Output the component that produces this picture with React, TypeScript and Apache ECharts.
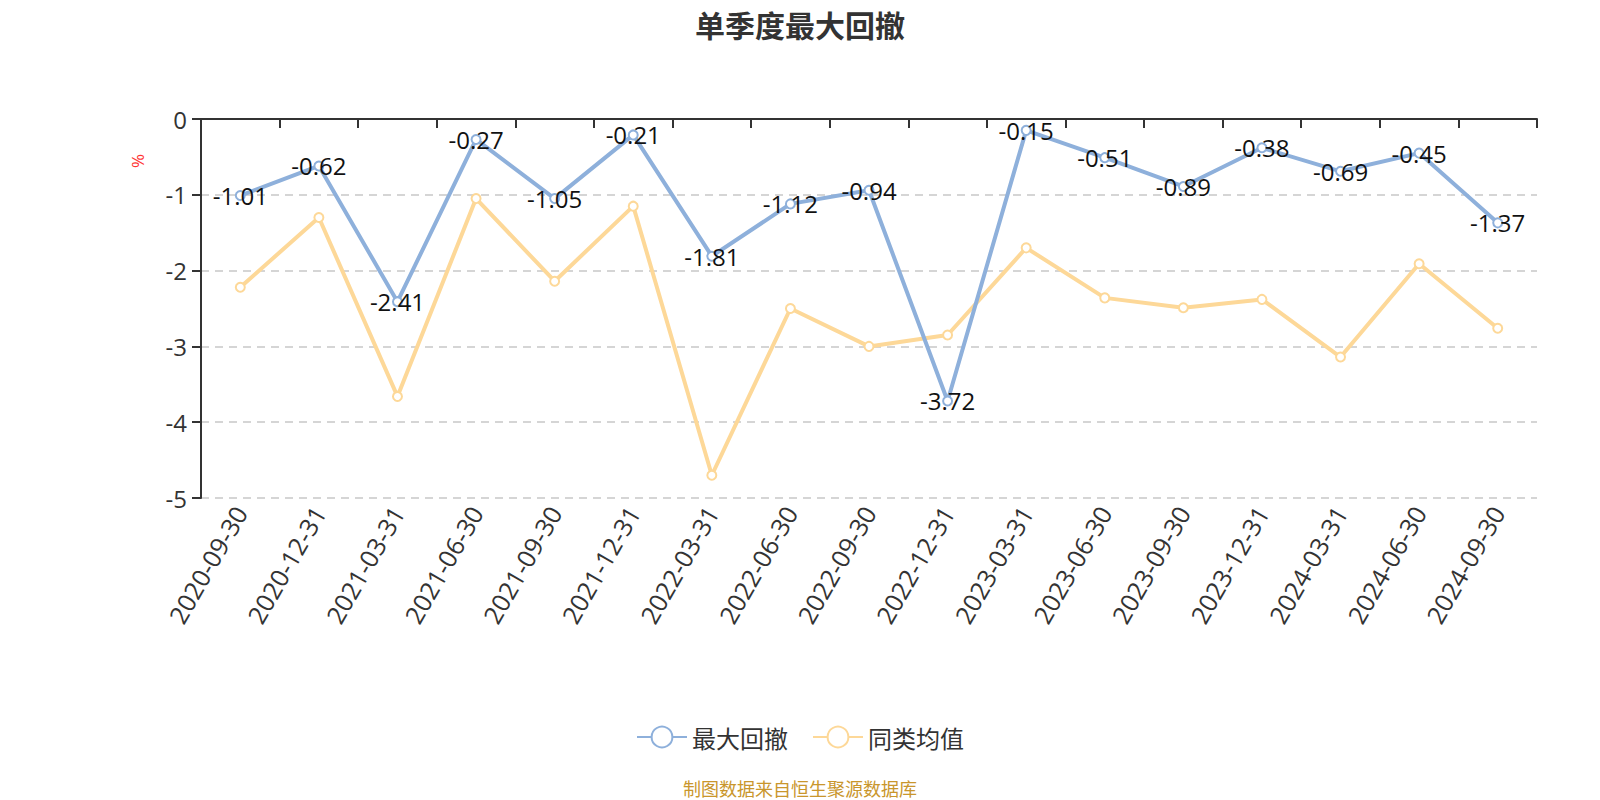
import React, { useEffect, useRef } from "react";
import * as echarts from "echarts";

const categories = [
  "2020-09-30", "2020-12-31", "2021-03-31", "2021-06-30", "2021-09-30", "2021-12-31",
  "2022-03-31", "2022-06-30", "2022-09-30", "2022-12-31", "2023-03-31", "2023-06-30",
  "2023-09-30", "2023-12-31", "2024-03-31", "2024-06-30", "2024-09-30",
];
const maxDrawdown = [
  -1.01, -0.62, -2.41, -0.27, -1.05, -0.21, -1.81, -1.12, -0.94, -3.72, -0.15, -0.51,
  -0.89, -0.38, -0.69, -0.45, -1.37,
];
const peerAverage = [
  -2.22, -1.3, -3.66, -1.05, -2.14, -1.15, -4.7, -2.5, -3.0, -2.85, -1.7, -2.36,
  -2.49, -2.38, -3.14, -1.91, -2.76,
];
const seriesNames = ["最大回撤", "同类均值"];

const FONT = "'Open Sans', 'Noto Sans CJK SC', sans-serif";
const CJK = "'Noto Sans CJK SC', sans-serif";

export default function App() {
  const ref = useRef<HTMLDivElement>(null);
  useEffect(() => {
    if (!ref.current) return;
    const chart = echarts.init(ref.current, null, { renderer: "svg" });
    chart.setOption({
      animation: false,
      textStyle: { fontFamily: FONT },
      title: {
        text: "单季度最大回撤",
        left: "center",
        top: 4,
        textStyle: { fontSize: 30, fontWeight: "bold", color: "#333", fontFamily: CJK },
      },
      legend: {
        top: 720,
        left: "center",
        itemWidth: 50,
        itemHeight: 26,
        itemGap: 24,
        textStyle: { fontSize: 24, color: "#333", fontFamily: CJK },
        data: seriesNames,
      },
      grid: { left: 201, right: 63, top: 119, bottom: 302, containLabel: false },
      xAxis: {
        type: "category",
        data: categories,
        boundaryGap: true,
        axisLine: { onZero: true, lineStyle: { color: "#333", width: 2 } },
        axisTick: { show: true, length: 9, lineStyle: { color: "#333", width: 2 } },
        axisLabel: { rotate: 60, fontSize: 25, color: "#333", margin: 10, interval: 0 },
      },
      yAxis: {
        type: "value",
        min: -5,
        max: 0,
        interval: 1,
        axisLine: { show: true, lineStyle: { color: "#333", width: 2 } },
        axisTick: { show: true, length: 9, lineStyle: { color: "#333", width: 2 } },
        axisLabel: { fontSize: 24, color: "#333", margin: 14 },
        splitLine: { show: true, lineStyle: { type: [8, 6], color: "#c8c8c8", width: 1.5 } },
      },
      graphic: [
        {
          type: "text",
          x: 138,
          y: 161,
          rotation: -Math.PI / 2,
          style: {
            text: "%",
            fill: "#ff3333",
            fontSize: 17,
            fontFamily: FONT,
            align: "center",
            verticalAlign: "middle",
          },
        },
        {
          type: "text",
          left: "center",
          top: 779,
          style: {
            text: "制图数据来自恒生聚源数据库",
            fill: "#c9962c",
            fontSize: 18,
            fontFamily: CJK,
          },
        },
      ],
      series: [
        {
          name: seriesNames[0],
          type: "line",
          data: maxDrawdown,
          symbol: "emptyCircle",
          symbolSize: 9,
          z: 3,
          lineStyle: { color: "#8eb0db", width: 4 },
          itemStyle: { color: "#8eb0db", borderWidth: 1.5 },
          label: {
            show: true,
            position: "inside",
            fontSize: 24,
            color: "#111",
            fontFamily: FONT,
          },
        },
        {
          name: seriesNames[1],
          type: "line",
          data: peerAverage,
          symbol: "emptyCircle",
          symbolSize: 9,
          z: 2,
          lineStyle: { color: "#fdd898", width: 4 },
          itemStyle: { color: "#fdd898", borderWidth: 1.5 },
          label: { show: false },
        },
      ],
    });
    return () => chart.dispose();
  }, []);
  return (
    <div
      ref={ref}
      style={{ position: "fixed", left: 0, top: 0, width: 1600, height: 800, background: "#fff" }}
    />
  );
}
